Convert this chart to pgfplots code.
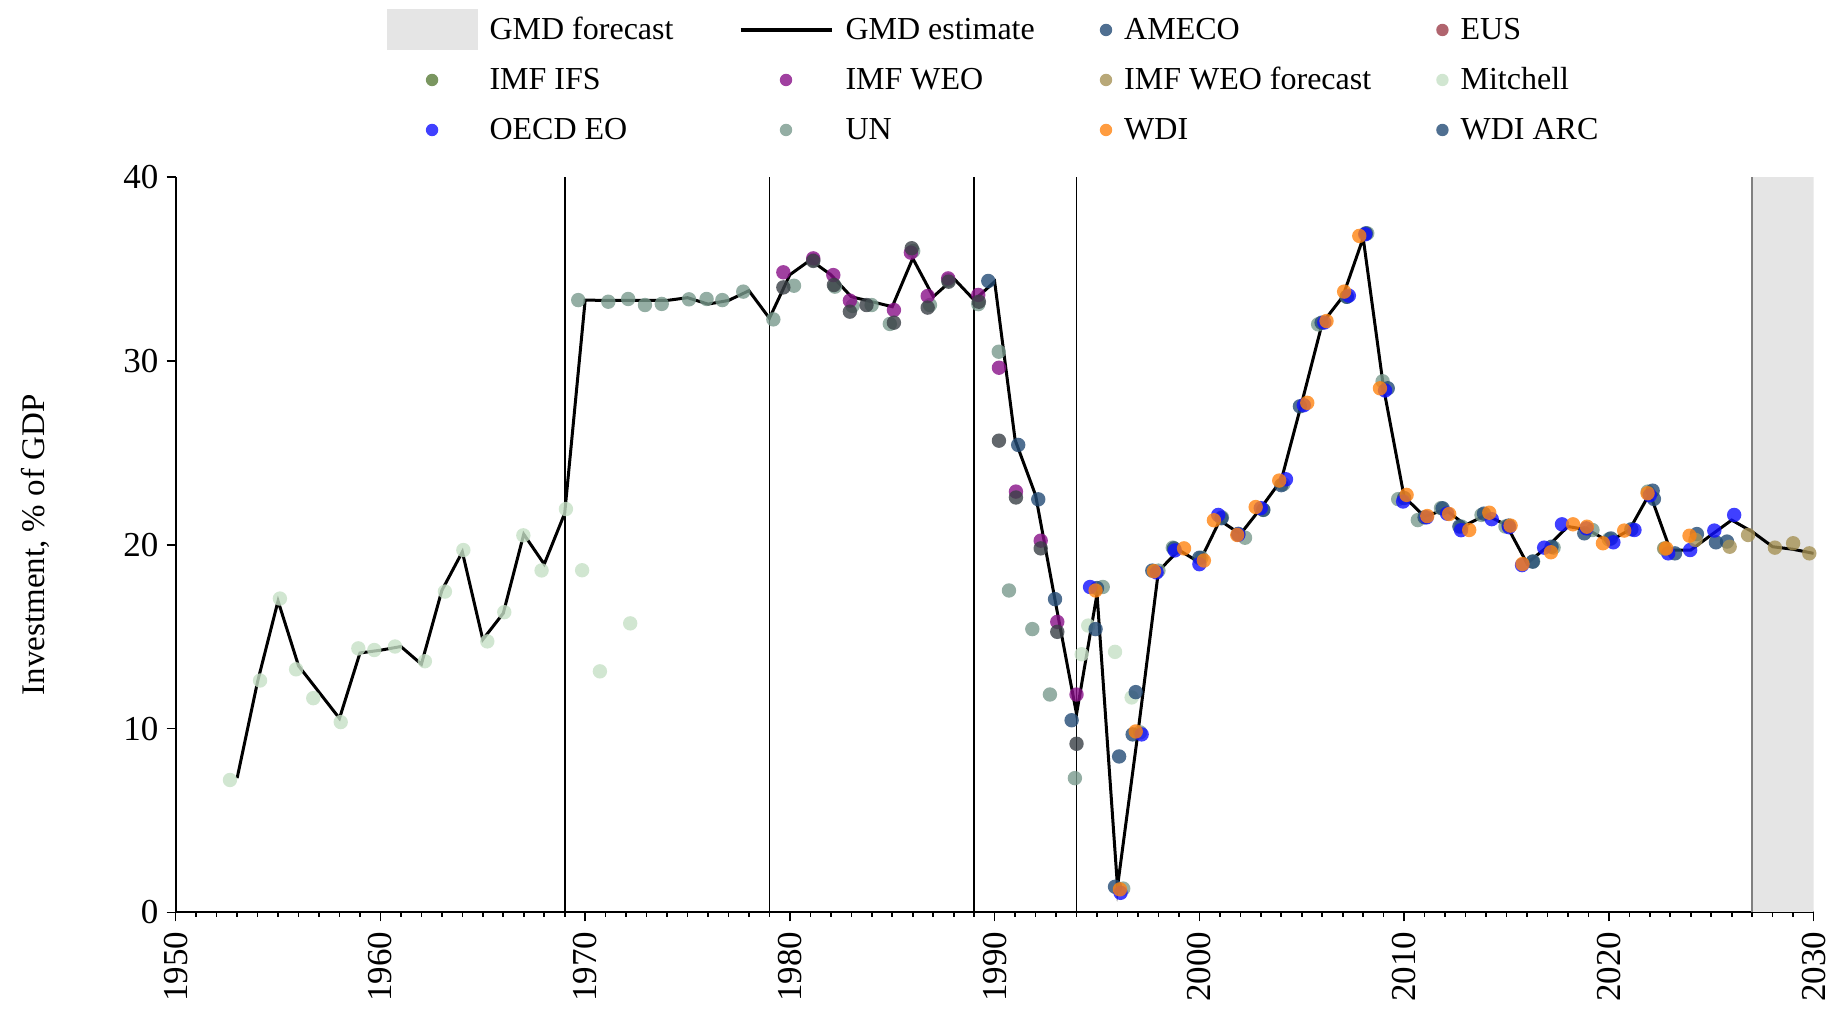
\documentclass[border=0pt]{standalone}
\usepackage{fontspec}
\setmainfont{Liberation Serif}
\usepackage{pgfplots}
\pgfplotsset{compat=1.18}

\definecolor{fcgrey}{HTML}{E5E5E5}
\definecolor{ameco}{HTML}{234B75}
\definecolor{eus}{HTML}{9C3D4A}
\definecolor{ifs}{HTML}{597C38}
\definecolor{weo}{HTML}{881088}
\definecolor{weof}{HTML}{A69256}
\definecolor{mitch}{HTML}{C6E0C6}
\definecolor{oecd}{HTML}{1010FF}
\definecolor{un}{HTML}{799A8D}
\definecolor{wdi}{HTML}{FF8310}
\definecolor{darkpt}{HTML}{3A4046}

\pgfplotsset{
  src/.style={only marks, mark=*, mark size=3.6pt, color=#1,
    mark options={draw opacity=0, fill=#1, fill opacity=0.8, line width=0pt},
    forget plot},
  narrowdot/.style={legend image code/.code={
    \fill[draw=none, fill=#1, fill opacity=0.8] (3.1pt,0pt) circle[radius=3.1pt];}},
  widedot/.style={legend image code/.code={
    \path[draw=none, fill=none] (0pt,0pt) -- (45.5pt,0pt);
    \fill[draw=none, fill=#1, fill opacity=0.8] (22.75pt,0pt) circle[radius=3.1pt];}},
}

\begin{document}
\begin{tikzpicture}
\useasboundingbox (-87.85pt,-51.75pt) rectangle (830.65pt,456.25pt);
\begin{axis}[
  scale only axis, width=818.95pt, height=367.6pt,
  at={(0pt,0pt)}, anchor=south west,
  xmin=1950, xmax=2030, ymin=0, ymax=40,
  axis x line*=bottom, axis y line*=left,
  axis line style={black, line width=1pt, -},
  xtick={1950,1960,...,2030}, ytick={0,10,...,40},
  minor x tick num=9,
  tick align=outside, tick pos=left,
  major tick length=4.5pt, minor tick length=2.2pt,
  tick style={black, line width=0.8pt},
  /pgf/number format/assume math mode=true,
  /pgf/number format/1000 sep={},
  xticklabel style={rotate=90, anchor=east, inner sep=0pt,
    font=\fontsize{17.5}{20}\selectfont},
  yticklabel style={anchor=east, inner sep=0pt,
    font=\fontsize{17.5}{20}\selectfont},
  xticklabel shift=5pt, yticklabel shift=4pt,
  ylabel={Investment, \% of GDP},
  ylabel style={at={(axis description cs:-0.0859,0.5)}, anchor=center,
    font=\fontsize{16.5}{19}\selectfont},
  legend columns=4,
  legend style={at={(0.12876,1.2194)}, anchor=north west,
    draw=none, fill=none, inner sep=0pt, outer sep=0pt, row sep=11pt,
    font=\fontsize{16}{19}\selectfont,
    nodes={inner sep=0pt, text height=12pt, text depth=2pt},
    cells={anchor=west},
    /tikz/every odd column/.style={column sep=6pt},
    /tikz/every even column/.style={column sep=32.5pt}},
]

% legend
\addlegendimage{legend image code/.code={\path[draw=none] (0pt,0pt) -- (45.5pt,0pt);
  \fill[fcgrey, draw=none, overlay] (0pt,-10.25pt) rectangle (45.5pt,10.25pt);}}
\addlegendentry{GMD forecast}
\addlegendimage{legend image code/.code={\draw[black, line width=2pt] (0pt,0pt) -- (45.5pt,0pt);}}
\addlegendentry{GMD estimate}
\addlegendimage{narrowdot=ameco}
\addlegendentry{AMECO}
\addlegendimage{narrowdot=eus}
\addlegendentry{EUS}
\addlegendimage{widedot=ifs}
\addlegendentry{IMF IFS}
\addlegendimage{widedot=weo}
\addlegendentry{IMF WEO}
\addlegendimage{narrowdot=weof}
\addlegendentry{IMF WEO forecast}
\addlegendimage{narrowdot=mitch}
\addlegendentry{Mitchell}
\addlegendimage{widedot=oecd}
\addlegendentry{OECD EO}
\addlegendimage{widedot=un}
\addlegendentry{UN}
\addlegendimage{narrowdot=wdi}
\addlegendentry{WDI}
\addlegendimage{narrowdot=ameco}
\addlegendentry{WDI ARC}

% forecast band and regime lines
\addplot[fill=fcgrey, draw=none, forget plot] coordinates {(2027,40) (2030,40)} \closedcycle;
\addplot[gray, line width=0.7pt, forget plot] coordinates {(2027,0) (2027,40)};
\addplot[black, line width=0.9pt, forget plot] coordinates {(1969,0) (1969,40)};
\addplot[black, line width=0.9pt, forget plot] coordinates {(1979,0) (1979,40)};
\addplot[black, line width=0.9pt, forget plot] coordinates {(1989,0) (1989,40)};
\addplot[black, line width=0.9pt, forget plot] coordinates {(1994,0) (1994,40)};

% GMD estimate
\addplot[black, line width=1.5pt, forget plot] coordinates {
(1953,7.31) (1954,12.56) (1955,16.95) (1956,13.42) (1957,11.99) (1958,10.56)
(1959,14.12) (1960,14.27) (1961,14.47) (1962,13.51) (1963,17.52) (1964,19.62)
(1965,14.85) (1966,16.28) (1967,20.58) (1968,18.95) (1969,21.72) (1970,33.32)
(1971,33.3) (1972,33.3) (1973,33.3) (1974,33.3) (1975,33.45) (1976,33.1)
(1977,33.3) (1978,33.83) (1979,32.33) (1980,34.7) (1981,35.5) (1982,34.7)
(1983,33.5) (1984,33.23) (1985,32.96) (1986,35.59) (1987,33.5) (1988,34.5)
(1989,33.32) (1990,34.32) (1991,25.71) (1992,22.7) (1993,16.7) (1994,10.8)
(1995,17.33) (1996,1.4) (1997,9.79) (1998,18.57) (1999,19.72) (2000,19.05)
(2001,21.34) (2002,20.58) (2003,22.0) (2004,23.53) (2005,27.73) (2006,32.06)
(2007,33.5) (2008,36.7) (2009,28.52) (2010,22.62) (2011,21.54) (2012,21.93)
(2013,21.08) (2014,21.63) (2015,21.08) (2016,19.0) (2017,19.9) (2018,21.0)
(2019,20.81) (2020,20.18) (2021,20.81) (2022,22.81) (2023,19.72) (2024,19.72)
(2025,20.54) (2026,21.35) (2027,20.72) (2028,19.9) (2029,19.76) (2030,19.54)
};

% Mitchell
\addplot[src=mitch] coordinates {
(1952.65,7.21) (1954.12,12.62) (1955.09,17.08) (1955.88,13.23) (1956.72,11.66)
(1958.06,10.36) (1958.92,14.37) (1959.7,14.28) (1960.71,14.47) (1962.17,13.67)
(1963.15,17.46) (1964.05,19.72) (1965.22,14.75) (1966.05,16.34) (1966.98,20.52)
(1967.87,18.61) (1969.06,21.95) (1969.85,18.62) (1970.72,13.12) (1972.2,15.73)
(1994.25,14.05) (1994.57,15.61) (1995.88,14.18) (1996.69,11.70)
};

% UN
\addplot[src=un] coordinates {
(1969.66,33.32) (1971.13,33.23) (1972.1,33.38) (1972.92,33.05) (1973.74,33.11)
(1975.07,33.36) (1975.93,33.38) (1976.7,33.32) (1977.72,33.78) (1979.19,32.27)
(1980.2,34.1) (1981.14,35.5) (1982.2,34.05) (1983.06,33.0) (1983.99,33.05)
(1984.88,32.02) (1986.02,35.99) (1986.84,33.05) (1987.73,34.4) (1989.2,33.1)
(1990.2,30.51) (1990.7,17.52) (1991.84,15.42) (1992.7,11.86) (1993.92,7.31)
(1995.28,17.71) (1996.28,1.3) (1997.1,9.8) (1998.0,18.6) (1998.7,19.85)
(2000.1,19.3) (2001.1,21.5) (2002.23,20.39) (2003.12,21.9) (2004.1,23.3)
(2005.8,32.0) (2007.2,33.5) (2008.2,36.95) (2008.95,28.9) (2009.71,22.49)
(2010.67,21.35) (2011.8,22.0) (2012.8,21.0) (2013.78,21.63) (2014.95,21.0)
(2016.3,19.1) (2017.3,19.85) (2019.2,20.81) (2020.0,20.3) (2021.9,22.9)
(2022.7,19.8)
};

% IMF WEO
\addplot[src=weo] coordinates {
(1979.68,34.83) (1981.14,35.59) (1982.12,34.68) (1982.93,33.29) (1985.08,32.78)
(1985.91,35.9) (1986.73,33.54) (1987.73,34.5) (1989.2,33.6) (1990.21,29.64)
(1991.04,22.9) (1992.25,20.23) (1993.06,15.81) (1994.0,11.86)
};

% unlabelled dark series
\addplot[src=darkpt] coordinates {
(1979.68,34.01) (1981.14,35.45) (1982.15,34.14) (1982.93,32.69) (1983.74,33.05)
(1985.08,32.09) (1985.95,36.14) (1986.73,32.91) (1987.75,34.32) (1989.23,33.23)
(1990.21,25.67) (1991.04,22.58) (1992.25,19.81) (1993.06,15.27) (1994.0,9.18)
};

% WDI ARC
\addplot[src=ameco] coordinates {
(1989.69,34.36) (1991.15,25.44) (1992.13,22.48) (1992.95,17.05) (1993.76,10.46)
(1994.93,15.42) (1996.08,8.49) (1996.89,11.99)
};

% AMECO
\addplot[src=ameco] coordinates {
(1995.0,17.65) (1995.88,1.40) (1996.74,9.69) (1997.7,18.6) (1998.76,19.81)
(2000.0,19.3) (2001.08,21.45) (2001.9,20.6) (2003.12,21.91) (2004.0,23.25)
(2004.91,27.54) (2005.97,32.09) (2007.2,33.5) (2008.13,36.95) (2009.2,28.52)
(2010.0,22.55) (2011.0,21.5) (2011.88,21.99) (2012.7,21.0) (2013.9,21.7)
(2015.1,21.05) (2016.28,19.09) (2017.2,19.9) (2018.8,20.63) (2020.1,20.35)
(2021.1,20.85) (2022.14,22.95) (2022.2,22.5) (2023.23,19.54) (2024.3,20.59)
(2025.23,20.14) (2025.77,20.18)
};

% OECD EO
\addplot[src=oecd] coordinates {
(1994.66,17.71) (1996.15,1.07) (1997.18,9.69) (1997.91,18.5) (1998.8,19.7)
(2000.0,18.95) (2000.92,21.63) (2001.9,20.55) (2003.0,22.0) (2004.23,23.57)
(2005.1,27.6) (2006.1,32.1) (2007.3,33.56) (2008.1,36.9) (2009.07,28.4)
(2009.95,22.36) (2011.1,21.5) (2012.1,21.7) (2012.78,20.8) (2014.28,21.4)
(2015.13,20.96) (2015.76,18.9) (2016.84,19.85) (2017.71,21.12) (2018.9,20.9)
(2020.22,20.14) (2021.25,20.81) (2022.0,22.7) (2022.9,19.54) (2023.97,19.72)
(2025.15,20.78) (2026.12,21.63)
};

% IMF WEO forecast
\addplot[src=weof] coordinates {
(2022.72,19.8) (2024.23,20.27) (2025.9,19.9) (2026.8,20.54) (2028.11,19.85)
(2029.0,20.09) (2029.79,19.54)
};

% WDI
\addplot[src=wdi] coordinates {
(1994.93,17.52) (1996.12,1.26) (1996.89,9.85) (1997.78,18.57) (1999.25,19.81)
(2000.22,19.15) (2000.71,21.34) (2001.85,20.54) (2002.75,22.06) (2003.9,23.5)
(2005.27,27.73) (2006.21,32.18) (2007.07,33.78) (2007.81,36.81) (2008.82,28.52)
(2010.12,22.72) (2011.13,21.57) (2012.2,21.68) (2013.18,20.81) (2014.16,21.75)
(2015.2,21.05) (2015.78,18.96) (2017.17,19.6) (2018.25,21.12) (2018.93,20.99)
(2019.71,20.09) (2020.75,20.78) (2021.89,22.81) (2022.8,19.81) (2023.94,20.5)
};

\end{axis}
\end{tikzpicture}
\end{document}
